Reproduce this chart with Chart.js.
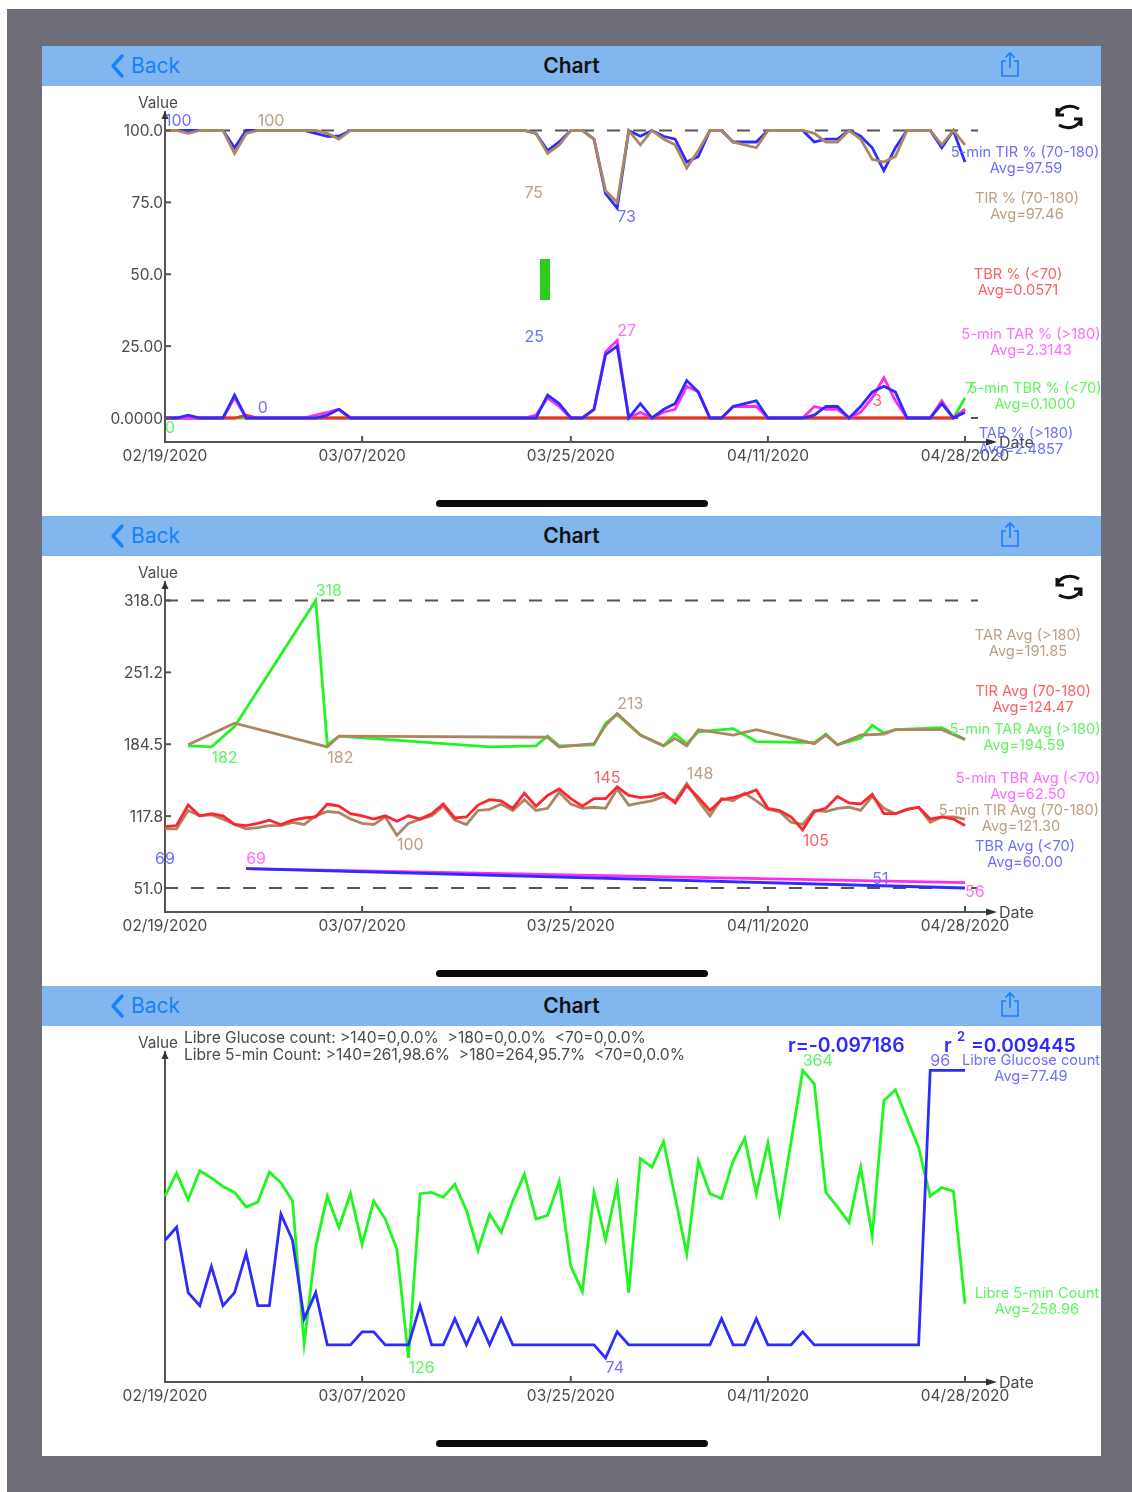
<!DOCTYPE html>
<html>
<head>
<meta charset="utf-8">
<title>Chart</title>
<script src="https://cdn.jsdelivr.net/npm/chart.js@4"></script>
<style>
  html, body { margin: 0; padding: 0; background: #fff; }
  body { position: relative; width: 1132px; height: 1492px; overflow: hidden; font-family: Inter, "Noto Sans", sans-serif; }
  .frame { position: absolute; left: 7px; top: 9px; width: 1125px; height: 1483px; background: #6e6e78; }
  .panel { position: absolute; left: 42px; width: 1059px; height: 470px; background: #fff; filter: blur(0.4px); }
  .bar { position: absolute; left: 0; top: 0; width: 100%; height: 40px; background: #82b6ef; }
  .back { position: absolute; left: 89px; top: 7px; font-size: 21px; line-height: 26px; color: #1a7ffb; }
  .title { position: absolute; left: 0; width: 100%; top: 7px; text-align: center; font-size: 21px; line-height: 26px; font-weight: 600; color: #111; }
  .bar svg { position: absolute; }
  canvas { position: absolute; left: 0; top: 40px; }
  .home { position: absolute; left: 394px; top: 454px; width: 272px; height: 7px; border-radius: 4px; background: #0a0a0a; }
  .sync { position: absolute; left: 1011px; top: 56px; }
  .stray { position: absolute; left: 498px; top: 213px; width: 10px; height: 41px; background: #2ecb1f; }
</style>
</head>
<body>
<div class="frame"></div>
<div class="panel" style="top:46px" id="p0"></div>
<div class="panel" style="top:516px" id="p1"></div>
<div class="panel" style="top:986px" id="p2"></div>
<script>
// dates, one point per day
var dates = [];
(function () {
    var d = new Date(2020, 1, 19);
    for (var i = 0; i < 70; i++) {
        var mm = ('0' + (d.getMonth() + 1)).slice(-2);
        var dd = ('0' + d.getDate()).slice(-2);
        dates.push(mm + '/' + dd + '/2020');
        d.setDate(d.getDate() + 1);
    }
}());
var dateTickIndex = [0, 17, 35, 52, 69];

// panel 1, percentages
var tirPct5min = [
    100,100,100,100,100,100,94,100,100,100,
    100,100,100,99,98,98,100,100,100,100,
    100,100,100,100,100,100,100,100,100,100,
    100,100,99,93,96,100,100,97,78,73,
    100,98,100,98,97,89,91,100,100,96,
    96,96,100,100,100,100,96,97,97,100,
    98,94,86,94,100,100,100,94,100,89];
var tirPct = [
    100,100,99,100,100,100,92,99,100,100,
    100,100,100,100,99,97,100,100,100,100,
    100,100,100,100,100,100,100,100,100,100,
    100,100,99,92,95,100,100,97,79,75,
    100,95,100,97,95,87,93,100,100,96,
    95,94,100,100,100,100,99,96,96,100,
    97,90,89,91,100,100,100,95,100,95];
var tbrPct = [
    0,0,0,0,0,0,0,1,0,0,
    0,0,0,0,0,0,0,0,0,0,
    0,0,0,0,0,0,0,0,0,0,
    0,0,0,0,0,0,0,0,0,0,
    0,0,0,0,0,0,0,0,0,0,
    0,0,0,0,0,0,0,0,0,0,
    0,0,0,0,0,0,0,0,0,3];
var tarPct5min = [
    0,0,0,0,0,0,7,0,0,0,
    0,0,0,1,2,3,0,0,0,0,
    0,0,0,0,0,0,0,0,0,0,
    0,0,1,7,4,0,0,3,23,27,
    0,2,0,2,3,11,9,0,0,4,
    4,4,0,0,0,0,4,3,3,0,
    2,7,14,6,0,0,0,6,0,3];
var tbrPct5min = [
    0,0,0,0,0,0,0,0,0,0,
    0,0,0,0,0,0,0,0,0,0,
    0,0,0,0,0,0,0,0,0,0,
    0,0,0,0,0,0,0,0,0,0,
    0,0,0,0,0,0,0,0,0,0,
    0,0,0,0,0,0,0,0,0,0,
    0,0,0,0,0,0,0,0,0,7];
var tarPct = [
    0,0,1,0,0,0,8,0,0,0,
    0,0,0,0,1,3,0,0,0,0,
    0,0,0,0,0,0,0,0,0,0,
    0,0,0,8,5,0,0,3,22,25,
    0,5,0,3,5,13,9,0,0,4,
    5,6,0,0,0,0,1,4,4,0,
    4,9,11,9,0,0,0,5,0,2];
var pctTicks = [0, 25, 50, 75, 100];
var pctTickLabels = ['0.0000', '25.00', '50.0', '75.0', '100.0'];

// panel 2, average glucose
var tarAvg = [
    null,null,184,null,null,null,204,null,null,null,
    null,null,null,null,182,192,null,null,null,null,
    null,null,null,null,null,null,null,null,null,null,
    null,null,null,191,182,null,null,185,202,213,
    null,193,null,183,190,183,198,null,null,193,
    null,198,null,null,null,null,185,193,184,null,
    193,null,194,198,null,null,null,198,null,189];
var tarAvg5min = [
    null,null,183,null,182,null,201,null,null,null,
    null,null,null,318,184,192,null,null,null,null,
    null,null,null,null,null,null,null,null,182,null,
    null,null,183,192,183,null,null,184,204,212,
    null,193,null,183,194,185,196,null,null,199,
    null,187,null,null,null,null,186,194,184,null,
    190,202,195,198,null,null,null,200,null,189];
var tirAvg = [
    108,109,128,118,120,118,110,109,111,114,
    110,114,116,117,129,127,120,118,115,118,
    113,118,115,120,129,116,117,128,133,132,
    125,139,127,137,143,134,127,134,134,145,
    137,135,136,139,130,146,135,123,133,135,
    138,142,125,123,117,105,122,125,136,130,
    129,138,120,120,124,126,115,117,115,109];
var tirAvg5min = [
    106,106,123,118,119,115,110,106,107,109,
    109,112,110,118,122,121,115,111,110,117,
    100,111,115,118,127,114,110,123,124,129,
    123,133,123,125,140,129,125,126,125,143,
    128,130,132,136,132,148,132,118,134,132,
    139,132,124,122,112,110,123,122,125,126,
    123,136,125,120,124,126,112,117,117,115];
var tbrAvg5min = [
    null,null,null,null,null,null,null,69,null,null,
    null,null,null,null,null,null,null,null,null,null,
    null,null,null,null,null,null,null,null,null,null,
    null,null,null,null,null,null,null,null,null,null,
    null,null,null,null,null,null,null,null,null,null,
    null,null,null,null,null,null,null,null,null,null,
    null,null,null,null,null,null,null,null,null,56];
var tbrAvg = [
    null,null,null,null,null,null,null,69,null,null,
    null,null,null,null,null,null,null,null,null,null,
    null,null,null,null,null,null,null,null,null,null,
    null,null,null,null,null,null,null,null,null,null,
    null,null,null,null,null,null,null,null,null,null,
    null,null,null,null,null,null,null,null,null,null,
    null,null,null,null,null,null,null,null,null,51];
var avgTicks = [51, 117.75, 184.5, 251.25, 318];
var avgTickLabels = ['51.0', '117.8', '184.5', '251.2', '318.0'];

// panel 3, counts
var libreCount = [
    83,84,79,78,81,78,79,82,78,78,
    85,83,77,79,75,75,75,76,76,75,
    75,75,78,75,75,77,75,77,75,77,
    75,75,75,75,75,75,75,75,74,76,
    75,75,75,75,75,75,75,75,77,75,
    75,77,75,75,75,76,75,75,75,75,
    75,75,75,75,75,75,96,96,96,96];
var libreCount5min = [
    260,279,257,281,275,268,263,251,255,280,
    271,256,138,218,260,234,262,220,256,241,
    216,126,262,263,259,270,248,215,245,230,
    256,278,241,244,272,202,181,263,224,269,
    180,291,284,305,259,212,289,262,258,289,
    308,262,304,246,305,364,353,263,251,238,
    284,227,339,348,324,300,260,267,264,171];

var BLUE = '#2c2cff', TAN = '#ab8662', RED = '#ff2430', PINK = '#ff2bf5', GREEN = '#1ff51f';
var T_BLUE = '#6f6fff', T_TAN = '#bb9f83', T_RED = '#ff5f5f', T_PINK = '#ff6cff', T_GREEN = '#5ff55f';
var TEXT = '#4a4a4a';
var FAMILY = 'Inter, "Noto Sans", sans-serif';

// shared header bar and home indicator for each screen
['p0', 'p1', 'p2'].forEach(function (id) {
    var p = document.getElementById(id);
    p.innerHTML =
        '<div class="bar">' +
        '<svg style="left:67px;top:7px" width="16" height="26" viewBox="0 0 16 26"><path d="M13 3 L4 13 L13 23" fill="none" stroke="#1a7ffb" stroke-width="3.4" stroke-linecap="round" stroke-linejoin="round"/></svg>' +
        '<div class="back">Back</div><div class="title">Chart</div>' +
        '<svg style="left:956px;top:5px" width="24" height="28" viewBox="0 0 24 28"><path d="M8 10 H4 V25 H20 V10 H16 M12 17 V2 M7.5 6.5 L12 2 L16.5 6.5" fill="none" stroke="#1a7ffb" stroke-width="1.6"/></svg>' +
        '</div>' +
        '<canvas width="1059" height="430"></canvas>' +
        '<div class="home"></div>';
});

function syncIcon() {
    return '<svg class="sync" width="32" height="30" viewBox="0 0 32 30"><path d="M4 13 C7 4 18 2 26 7 M4 6 L4 13 L11 13 M28 17 C25 26 14 28 6 23 M28 24 L28 17 L21 17" fill="none" stroke="#111" stroke-width="3"/></svg>';
}
document.getElementById('p0').insertAdjacentHTML('beforeend', syncIcon() + '<div class="stray"></div>');
document.getElementById('p1').insertAdjacentHTML('beforeend', syncIcon());

// extra drawing the library does not have: arrows, inner ticks, dashed limits, value labels
function overlay(cfg) {
    return {
        id: 'overlay',
        beforeDatasetsDraw: function (chart) {
            var ctx = chart.ctx, y = chart.scales.y, area = chart.chartArea;
            ctx.save();
            ctx.strokeStyle = '#555';
            ctx.lineWidth = 2;
            ctx.setLineDash([13, 13]);
            (cfg.limits || []).forEach(function (v) {
                ctx.beginPath();
                ctx.moveTo(area.left, y.getPixelForValue(v));
                ctx.lineTo(area.right + 13, y.getPixelForValue(v));
                ctx.stroke();
            });
            ctx.restore();
        },
        afterDraw: function (chart) {
            var ctx = chart.ctx, x = chart.scales.x, y = chart.scales.y, area = chart.chartArea;
            ctx.save();
            ctx.strokeStyle = '#555';
            ctx.fillStyle = '#333';
            ctx.lineWidth = 2;

            // y ticks
            (cfg.yTicks || []).forEach(function (v) {
                var py = y.getPixelForValue(v);
                ctx.beginPath();
                ctx.moveTo(area.left, py);
                ctx.lineTo(area.left + 6, py);
                ctx.stroke();
            });
            // x ticks
            dateTickIndex.slice(1).forEach(function (i) {
                var px = x.getPixelForValue(i);
                ctx.beginPath();
                ctx.moveTo(px, area.bottom);
                ctx.lineTo(px, area.bottom - 6);
                ctx.stroke();
            });
            // axis extension and arrows
            ctx.beginPath();
            ctx.moveTo(area.right, area.bottom);
            ctx.lineTo(area.right + 22, area.bottom);
            ctx.stroke();
            ctx.beginPath();
            ctx.moveTo(area.right + 32, area.bottom);
            ctx.lineTo(area.right + 21, area.bottom - 3.5);
            ctx.lineTo(area.right + 21, area.bottom + 3.5);
            ctx.closePath();
            ctx.fill();
            ctx.beginPath();
            ctx.moveTo(area.left, area.top - 1);
            ctx.lineTo(area.left - 3.5, area.top + 7);
            ctx.lineTo(area.left + 3.5, area.top + 7);
            ctx.closePath();
            ctx.fill();

            ctx.font = '15.3px ' + FAMILY;
            ctx.textBaseline = 'middle';
            ctx.fillStyle = TEXT;
            ctx.textAlign = 'right';
            ctx.fillText('Value', area.left + 13, area.top - 9);
            ctx.textAlign = 'left';
            ctx.font = '16px ' + FAMILY;
            ctx.fillText('Date', area.right + 34, area.bottom + 1);

            // value labels hang off a data position
            cfg.labels.forEach(function (l) {
                var sc = chart.scales[l[5] || 'y'];
                ctx.fillStyle = l[4];
                ctx.fillText(l[0], x.getPixelForValue(l[1]) + (l[6] || 0), sc.getPixelForValue(l[2]) + l[3] + 1);
            });

            // series legend on the right, clipped at the screen edge
            ctx.beginPath();
            ctx.rect(0, 0, 1058, 430);
            ctx.clip();
            ctx.textAlign = 'center';
            ctx.font = '14.6px ' + FAMILY;
            cfg.legend.forEach(function (l) {
                ctx.fillStyle = l[2];
                ctx.fillText(l[0], l[3], l[4] + 0.5);
                ctx.fillText(l[1], l[5], l[4] + 16.5);
            });
            ctx.restore();

            if (cfg.extra) cfg.extra(ctx);
        }
    };
}

function line(data, color, axis) {
    return {
        data: data,
        borderColor: color,
        borderWidth: 2.8,
        pointRadius: 0,
        tension: 0,
        spanGaps: true,
        yAxisID: axis || 'y'
    };
}

function drawChart(panelId, datasets, yRange, tickValues, tickLabels, cfg, extraScales) {
    var canvas = document.querySelector('#' + panelId + ' canvas');
    var scales = {
        x: {
            type: 'category',
            offset: false,
            grid: { display: false, drawTicks: false },
            border: { display: true, color: '#555', width: 2 },
            afterFit: function (s) { s.height = 74; s.paddingLeft = 0; s.paddingRight = 0; },
            ticks: {
                autoSkip: false,
                maxRotation: 0,
                padding: 5,
                color: TEXT,
                font: { family: FAMILY, size: 15.5 },
                callback: function (val, idx) {
                    return dateTickIndex.indexOf(idx) >= 0 ? dates[idx] : '';
                }
            }
        },
        y: {
            min: yRange[0],
            max: yRange[1],
            grid: { display: false, drawTicks: false },
            border: { display: true, color: '#555', width: 2 },
            afterBuildTicks: function (s) {
                s.ticks = tickValues.map(function (v) { return { value: v }; });
            },
            afterFit: function (s) { s.width = 123; },
            ticks: {
                autoSkip: false,
                padding: 2,
                labelOffset: 1,
                color: TEXT,
                font: { family: FAMILY, size: 15.5 },
                callback: function (val) {
                    var i = tickValues.indexOf(val);
                    return i >= 0 ? tickLabels[i] : '';
                }
            }
        }
    };
    if (extraScales) {
        Object.keys(extraScales).forEach(function (k) { scales[k] = extraScales[k]; });
    }
    return new Chart(canvas.getContext('2d'), {
        type: 'line',
        data: { labels: dates, datasets: datasets },
        options: {
            responsive: false,
            animation: false,
            layout: { padding: { left: 0, top: 26, right: 136, bottom: 0 } },
            plugins: { legend: { display: false }, tooltip: { enabled: false } },
            scales: scales
        },
        plugins: [overlay(cfg)]
    });
}

// first dataset ends up on top
drawChart('p0', [
    line(tarPct, BLUE),
    line(tarPct5min, PINK),
    line(tbrPct, RED),
    line(tbrPct5min, GREEN),
    line(tirPct, TAN),
    line(tirPct5min, BLUE)
], [-8.35, 106.43], pctTicks, pctTickLabels, {
    limits: [100, 0],
    yTicks: pctTicks,
    labels: [
        ['100', 0, 100, -10, T_BLUE],
        ['100', 8, 100, -10, T_TAN],
        ['75', 31, 75, -10, T_TAN],
        ['25', 31, 25, -10, T_BLUE],
        ['73', 39, 73, 8, T_BLUE],
        ['27', 39, 27, -10, T_PINK],
        ['0', 8, 0, -11, T_BLUE],
        ['0', 0, 0, 9, T_GREEN],
        ['3', 61, 3, -9, T_RED],
        ['7', 69, 7, -10, T_GREEN]
    ],
    legend: [
        ['5-min TIR % (70-180)', 'Avg=97.59', T_BLUE, 983, 66, 984],
        ['TIR % (70-180)', 'Avg=97.46', T_TAN, 985, 112, 985],
        ['TBR % (<70)', 'Avg=0.0571', T_RED, 976, 188, 976],
        ['5-min TAR % (>180)', 'Avg=2.3143', T_PINK, 989, 248, 989],
        ['5-min TBR % (<70)', 'Avg=0.1000', T_GREEN, 993, 302, 993],
        ['TAR % (>180)', 'Avg=2.4857', T_BLUE, 984, 347, 979]
    ]
});

drawChart('p1', [
    line(tbrAvg, BLUE),
    line(tbrAvg5min, PINK),
    line(tirAvg, RED),
    line(tirAvg5min, TAN),
    line(tarAvg, TAN),
    line(tarAvg5min, GREEN)
], [28.71, 335.18], avgTicks, avgTickLabels, {
    limits: [318, 51],
    yTicks: avgTicks,
    labels: [
        ['318', 13, 318, -10, T_GREEN],
        ['182', 4, 182, 10, T_GREEN],
        ['182', 14, 182, 10, T_TAN],
        ['213', 39, 213, -10, T_TAN],
        ['145', 37, 145, -10, T_RED],
        ['148', 45, 148, -10, T_TAN],
        ['100', 20, 100, 9, T_TAN],
        ['105', 55, 105, 10, T_RED],
        ['69', 0, 69, -10, T_BLUE, 'y', -10],
        ['69', 7, 69, -10, T_PINK],
        ['51', 61, 51, -10, T_BLUE],
        ['56', 69, 56, 9, T_PINK]
    ],
    legend: [
        ['TAR Avg (>180)', 'Avg=191.85', T_TAN, 986, 79, 986],
        ['TIR Avg (70-180)', 'Avg=124.47', T_RED, 991, 135, 991],
        ['5-min TAR Avg (>180)', 'Avg=194.59', T_GREEN, 983, 173, 982],
        ['5-min TBR Avg (<70)', 'Avg=62.50', T_PINK, 986, 222, 986],
        ['5-min TIR Avg (70-180)', 'Avg=121.30', T_TAN, 977, 254, 979],
        ['TBR Avg (<70)', 'Avg=60.00', T_BLUE, 983, 290, 983]
    ]
});

drawChart('p2', [
    line(libreCount, BLUE),
    line(libreCount5min, GREEN, 'y5')
], [72.16, 97.4], [], [], {
    labels: [
        ['126', 21, 126, 9, T_GREEN, 'y5'],
        ['364', 55, 364, -10, T_GREEN, 'y5'],
        ['74', 38, 74, 9, T_BLUE],
        ['96', 66, 96, -10, T_BLUE]
    ],
    legend: [
        ['Libre Glucose count', 'Avg=77.49', T_BLUE, 989, 34, 989],
        ['Libre 5-min Count', 'Avg=258.96', T_GREEN, 995, 267, 995]
    ],
    extra: function (ctx) {
        ctx.save();
        ctx.textBaseline = 'middle';
        ctx.font = '15.55px ' + FAMILY;
        ctx.fillStyle = TEXT;
        ctx.fillText('Libre Glucose count: >140=0,0.0%  >180=0,0.0%  <70=0,0.0%', 142, 12);
        ctx.fillText('Libre 5-min Count: >140=261,98.6%  >180=264,95.7%  <70=0,0.0%', 142, 29);
        ctx.fillStyle = BLUE;
        ctx.font = '600 19.4px ' + FAMILY;
        ctx.fillText('r=-0.097186', 746, 20);
        ctx.fillText('r', 902, 20);
        ctx.font = '600 19px ' + FAMILY;
        ctx.fillText('=0.009445', 929, 20);
        ctx.font = '600 13px ' + FAMILY;
        ctx.fillText('2', 915, 11);
        ctx.restore();
    }
}, {
    y5: { display: false, min: 106.1, max: 379.3 }
});
</script>
</body>
</html>
